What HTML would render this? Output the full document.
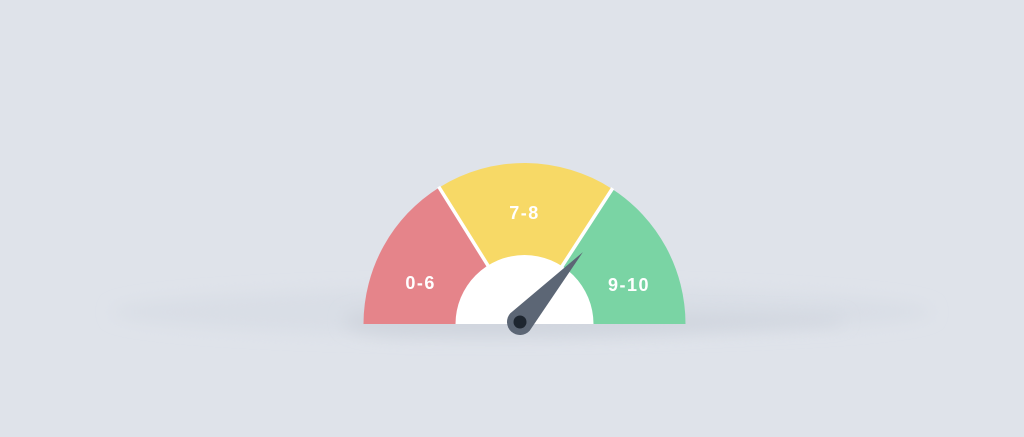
<!DOCTYPE html>
<html><head><meta charset="utf-8"><style>
html,body{margin:0;padding:0;background:#dfe3ea;}
svg{display:block;}
text{font-family:"Liberation Sans",sans-serif;font-weight:bold;fill:#fff;font-size:18px;letter-spacing:1.5px;}
</style></head><body>
<svg width="1024" height="437" viewBox="0 0 1024 437">
<defs>
<filter id="blur" x="-20%" y="-100%" width="140%" height="300%"><feGaussianBlur stdDeviation="8"/></filter>
</defs>
<ellipse cx="522" cy="312" rx="410" ry="24" fill="#d9dee6" filter="url(#blur)"/>
<path d="M345 318 Q350 308 420 310 L830 316 Q860 320 830 324 L700 330 Q600 338 400 336 Q340 332 345 318Z" fill="#d0d5de" filter="url(#blur)"/>
<g id="segs"></g>
<g id="needle"></g>
</svg>
<script>
const categories=["0-6","7-8","9-10"];
const startAngles=[180,122,57];
const endAngles=[122,57,0];
const labelAngles=[158,90,21];
const colors=["#e5848a","#f7d966","#7ad4a4"];
const needleAngle=48;
const cx=524.5,cy=324,R=161,r=69;
const NS="http://www.w3.org/2000/svg";
function pt(a,rad){const t=a*Math.PI/180;return [cx+rad*Math.cos(t),cy-rad*Math.sin(t)];}
const g=document.getElementById('segs');
categories.forEach((c,i)=>{
 const a0=startAngles[i],a1=endAngles[i];
 const p0=pt(a0,R),p1=pt(a1,R);
 const p=document.createElementNS(NS,'path');
 p.setAttribute('d',`M${cx} ${cy} L${p0[0]} ${p0[1]} A${R} ${R} 0 0 1 ${p1[0]} ${p1[1]} Z`);
 p.setAttribute('fill',colors[i]);
 
 
 g.appendChild(p);
});
endAngles.slice(0,-1).forEach((a,i)=>{
 const p=pt(a,R+1);
 const l=document.createElementNS(NS,'line');
 l.setAttribute('x1',cx);l.setAttribute('y1',cy);l.setAttribute('x2',p[0]);l.setAttribute('y2',p[1]);
 l.setAttribute('stroke','#fff');l.setAttribute('stroke-width','3.5');
 
 
 g.appendChild(l);
});
categories.forEach((c,i)=>{
 const p=pt(labelAngles[i],112);
 const t=document.createElementNS(NS,'text');
 t.setAttribute('x',p[0]);t.setAttribute('y',p[1]+7);t.setAttribute('text-anchor','middle');
 t.textContent=c;
 
 
 g.appendChild(t);
});
const hub=document.createElementNS(NS,'path');
hub.setAttribute('d',`M${cx-r} ${cy} A${r} ${r} 0 0 1 ${cx+r} ${cy} Z`);
hub.setAttribute('fill','#fff');


g.appendChild(hub);
const n=document.getElementById('needle');
const px=520,py=322,L=94,w=13;
const t=needleAngle*Math.PI/180;
const tip=[px+L*Math.cos(t),py-L*Math.sin(t)];
const nx=Math.sin(t),ny=Math.cos(t);
const np=document.createElementNS(NS,'path');
np.setAttribute('d',`M${px+w*nx} ${py+w*ny} L${tip[0]} ${tip[1]} L${px-w*nx} ${py-w*ny} A${w} ${w} 0 1 0 ${px+w*nx} ${py+w*ny}Z`);
np.setAttribute('fill','#5c6675');


n.appendChild(np);
const dot=document.createElementNS(NS,'circle');
dot.setAttribute('cx',px);dot.setAttribute('cy',py);dot.setAttribute('r',6.5);dot.setAttribute('fill','#1e2630');


n.appendChild(dot);
</script>
</body></html>
